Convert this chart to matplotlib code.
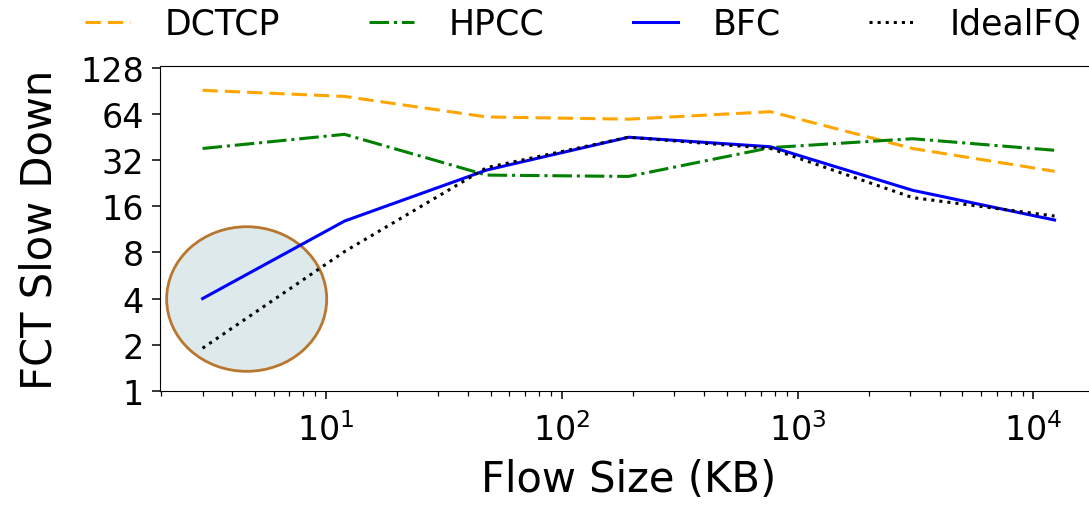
import matplotlib
matplotlib.use("Agg")
import matplotlib.pyplot as plt
from matplotlib.patches import Ellipse

# flow sizes (KB) and FCT slowdown per scheme
flow_size = [3, 12, 48, 192, 768, 3072, 12288]
dctcp = [91, 83, 61, 59, 66, 38, 27]
hpcc = [38, 47, 25.5, 25, 38.5, 44, 37]
bfc = [4.0, 12.8, 27.5, 45, 39, 20.3, 13.0]
ideal_fq = [1.9, 8.1, 28.5, 45, 38, 18.2, 13.8]

y_ticks = [1, 2, 4, 8, 16, 32, 64, 128]

W, H = 1089, 506
fig = plt.figure(figsize=(W / 100, H / 100), dpi=100)
ax = fig.add_axes([160 / W, (H - 392) / H, (1097 - 160) / W, (392 - 67) / H])

ax.plot(flow_size, dctcp, color="orange", linestyle="--", dashes=(5, 2.3), lw=2.2, label="DCTCP", zorder=3)
ax.plot(flow_size, hpcc, color="green", linestyle="-.", lw=2.2, label="HPCC", zorder=3)
ax.plot(flow_size, bfc, color="blue", linestyle="-", lw=2.2, label="BFC", zorder=4)
ax.plot(flow_size, ideal_fq, color="black", linestyle=":", lw=2.2, label="IdealFQ", zorder=5)

# highlight circle around the small flows
circ = Ellipse((0.0925, 0.283), 0.1708, 0.445, transform=ax.transAxes,
               facecolor="#dde9ea", edgecolor="#b8762e", lw=2, zorder=2)
ax.add_patch(circ)

ax.set_xscale("log")
ax.set_yscale("log", base=2)
ax.set_xlim(1.98, 18600)
ax.set_ylim(1, 131)
ax.set_yticks(y_ticks)
ax.set_yticklabels([str(v) for v in y_ticks])
ax.yaxis.set_minor_locator(matplotlib.ticker.NullLocator())
ax.tick_params(axis="both", which="major", labelsize=24, length=5.5, width=1.1)
ax.tick_params(axis="x", which="major", pad=10)
ax.tick_params(axis="y", which="major", pad=6)
ax.tick_params(axis="x", which="minor", length=3.5, width=0.9)

ax.set_xlabel("Flow Size (KB)", fontsize=30, labelpad=8)
ax.set_ylabel("FCT Slow Down", fontsize=30, labelpad=14)

fig.legend(loc="center", bbox_to_anchor=(583 / W, 1 - 25 / H), ncol=4, frameon=False,
           fontsize=25, handlelength=1.3, handletextpad=1.0, columnspacing=2.55)

plt.savefig("out.png", dpi=100)
